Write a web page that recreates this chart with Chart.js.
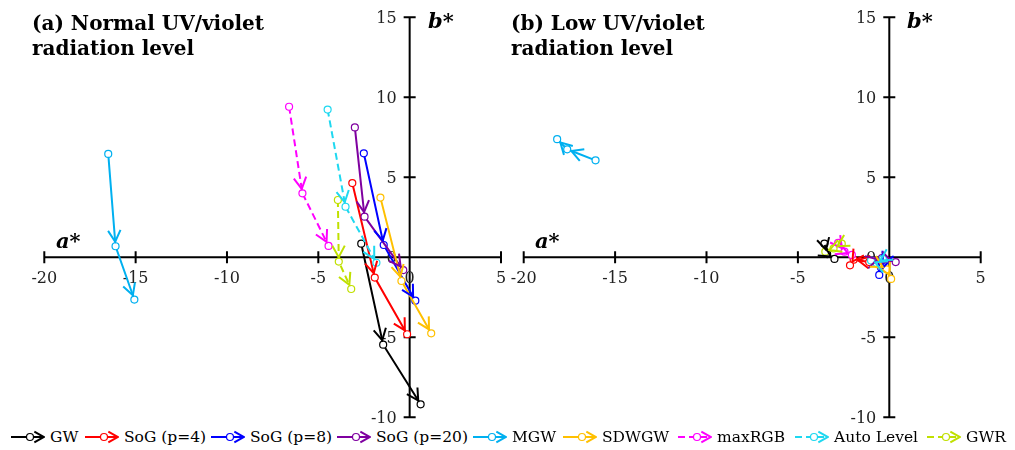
<!DOCTYPE html>
<html>
<head>
<meta charset="utf-8">
<script src="https://cdn.jsdelivr.net/npm/chart.js@4.4.1/dist/chart.umd.min.js"></script>
<style>
  body { margin: 0; background: #fff; }
  #wrap { position: relative; width: 1015px; height: 450px; font-family: 'DejaVu Serif', serif; color: #000; overflow: hidden; }
  .panel { position: absolute; top: 0; height: 425px; }
  #panelA { left: 0; width: 510px; }
  #panelB { left: 490px; width: 525px; }
  .title { position: absolute; top: 11px; font-weight: bold; font-size: 20px; line-height: 25px; }
  .axname { position: absolute; font-weight: bold; font-style: italic; font-size: 21px; line-height: 21px; }
  #legend { position: absolute; left: 0; top: 428px; width: 1015px; height: 18px; font-size: 15.5px; line-height: 18px; white-space: nowrap; }
  #legend .item { position: absolute; top: 0; display: flex; align-items: center; }
  #legend canvas { margin-right: 5px; }
</style>
</head>
<body>
<div id="wrap">
  <canvas id="panelA" class="panel" width="510" height="425"></canvas>
  <canvas id="panelB" class="panel" width="525" height="425"></canvas>
  <div class="title" style="left:32px">(a) Normal UV/violet<br>radiation level</div>
  <div class="title" style="left:511px">(b) Low UV/violet<br>radiation level</div>
  <div class="axname" style="left:56px;top:230px">a*</div>
  <div class="axname" style="left:428px;top:10px">b*</div>
  <div class="axname" style="left:535px;top:230px">a*</div>
  <div class="axname" style="left:907px;top:10px">b*</div>
  <div id="legend"></div>
</div>
<script>
// axis ticks
const aTicks = [-20, -15, -10, -5, 0, 5];
const bTicks = [-10, -5, 0, 5, 10, 15];

// series
const seriesNames = ['GW', 'SoG (p=4)', 'SoG (p=8)', 'SoG (p=20)', 'MGW', 'SDWGW', 'maxRGB', 'Auto Level', 'GWR'];
const seriesColors = ['#000000', '#ff0000', '#0000ff', '#7f00a0', '#00b0f0', '#ffc000', '#ff00ff', '#1ed8f0', '#c0e000'];
const seriesDashed = [false, false, false, false, false, false, true, true, true];

// (a) normal UV/violet level: [a*, b*] at each step
const normalGW    = [[-2.65, 0.85], [-1.45, -5.46], [0.60, -9.19]];
const normalSoG4  = [[-3.14, 4.64], [-1.91, -1.27], [-0.14, -4.81]];
const normalSoG8  = [[-2.51, 6.50], [-1.42, 0.77], [0.31, -2.71]];
const normalSoG20 = [[-3.00, 8.12], [-2.47, 2.54], [-0.35, -0.80]];
const normalMGW   = [[-16.50, 6.46], [-16.10, 0.69], [-15.07, -2.64]];
const normalSDWGW = [[-1.60, 3.73], [-0.45, -1.48], [1.18, -4.75]];
const normalMax   = [[-6.60, 9.41], [-5.87, 4.00], [-4.44, 0.71]];
const normalAuto  = [[-4.49, 9.23], [-3.51, 3.16], [-1.82, -0.34]];
const normalGWR   = [[-3.93, 3.58], [-3.88, -0.27], [-3.20, -1.98]];

// (b) low UV/violet level
const lowGW    = [[-3.55, 0.85], [-3.40, 0.20], [-3.00, -0.10]];
const lowSoG4  = [[-1.10, -0.30], [-1.95, -0.15], [-2.15, -0.50]];
const lowSoG8  = [[-0.30, -0.30], [-0.45, -0.65], [-0.55, -1.10]];
const lowSoG20 = [[-0.90, -0.20], [-0.40, -0.05], [0.35, -0.30]];
const lowMGW   = [[-16.07, 6.06], [-17.62, 6.75], [-18.17, 7.38]];
const lowSDWGW = [[-0.60, -0.45], [-0.15, -0.75], [0.10, -1.35]];
const lowMax   = [[-2.80, 0.90], [-2.45, 0.35], [-2.05, 0.15]];
const lowAuto  = [[-0.35, -0.10], [-0.70, -0.35], [-1.00, -0.20]];
const lowGWR   = [[-2.60, 0.85], [-3.05, 0.55], [-3.50, 0.35]];

const normalSeries = [normalGW, normalSoG4, normalSoG8, normalSoG20, normalMGW, normalSDWGW, normalMax, normalAuto, normalGWR];
const lowSeries = [lowGW, lowSoG4, lowSoG8, lowSoG20, lowMGW, lowSDWGW, lowMax, lowAuto, lowGWR];

const FONT = 'DejaVu Serif';
const DASH = [7, 4];
const PT_R = 3.5;
const HEAD = 13, HEAD_ANGLE = 0.5;
const legendLeft = [11, 85, 211, 337, 473, 563, 678, 795, 927];

// open chevron whose tip sits at (tx, ty), pointing along angle
const chevron = (ctx, tx, ty, angle, len) => {
    ctx.beginPath();
    ctx.moveTo(tx - len * Math.cos(angle - HEAD_ANGLE), ty - len * Math.sin(angle - HEAD_ANGLE));
    ctx.lineTo(tx, ty);
    ctx.lineTo(tx - len * Math.cos(angle + HEAD_ANGLE), ty - len * Math.sin(angle + HEAD_ANGLE));
    ctx.stroke();
};

// arrowheads at the end of every segment, stopping at the marker circle
const arrowHeads = {
    id: 'arrowHeads',
    afterDatasetsDraw(chart) {
        const ctx = chart.ctx;
        ctx.save();
        ctx.lineWidth = 2;
        ctx.setLineDash([]);
        chart.data.datasets.forEach((ds, i) => {
            const pts = chart.getDatasetMeta(i).data;
            ctx.strokeStyle = ds.borderColor;
            for (let j = 1; j < pts.length; j++) {
                const p0 = pts[j - 1], p1 = pts[j];
                const ang = Math.atan2(p1.y - p0.y, p1.x - p0.x);
                chevron(ctx, p1.x - (PT_R + 1) * Math.cos(ang), p1.y - (PT_R + 1) * Math.sin(ang), ang, HEAD);
            }
        });
        ctx.restore();
    }
};

// a*/b* axes crossing at the origin, with ticks through the line and labels
const crossAxes = {
    id: 'crossAxes',
    beforeDatasetsDraw(chart) {
        const { ctx, scales: { x, y } } = chart;
        const x0 = x.getPixelForValue(0), y0 = y.getPixelForValue(0);
        ctx.save();
        ctx.strokeStyle = '#000';
        ctx.lineWidth = 2;
        ctx.beginPath();
        ctx.moveTo(x.getPixelForValue(x.min) - 1, y0); ctx.lineTo(x.getPixelForValue(x.max) + 1, y0);
        ctx.moveTo(x0, y.getPixelForValue(y.max) - 1); ctx.lineTo(x0, y.getPixelForValue(y.min) + 1);
        x.ticks.forEach(t => {
            if (t.value === 0) return;
            const px = x.getPixelForValue(t.value);
            ctx.moveTo(px, y0 - 6); ctx.lineTo(px, y0 + 6);
        });
        y.ticks.forEach(t => {
            if (t.value === 0) return;
            const py = y.getPixelForValue(t.value);
            ctx.moveTo(x0 - 6, py); ctx.lineTo(x0 + 6, py);
        });
        ctx.stroke();

        ctx.fillStyle = '#222';
        ctx.font = `16px "${FONT}"`;
        ctx.textBaseline = 'alphabetic';
        ctx.textAlign = 'center';
        x.ticks.forEach(t => ctx.fillText(String(t.value), x.getPixelForValue(t.value), y0 + 26));
        ctx.textAlign = 'right';
        y.ticks.forEach(t => ctx.fillText(String(t.value), x0 - 13, y.getPixelForValue(t.value) + 6));
        ctx.restore();
    }
};

const makeDatasets = (series) => series.map((pts, i) => ({
    label: seriesNames[i],
    data: pts.map(p => ({ x: p[0], y: p[1] })),
    showLine: true,
    borderColor: seriesColors[i],
    borderWidth: 2,
    borderDash: seriesDashed[i] ? DASH : [],
    pointRadius: PT_R,
    pointBorderWidth: 1.2,
    pointBorderColor: seriesColors[i],
    pointBackgroundColor: '#fff',
    order: series.length - i
}));

const renderPanel = (canvasId, series, padLeft, padRight) => {
    new Chart(document.getElementById(canvasId), {
        type: 'scatter',
        data: { datasets: makeDatasets(series) },
        options: {
            responsive: false,
            animation: false,
            events: [],
            clip: false,
            layout: { autoPadding: false, padding: { left: padLeft, right: padRight, top: 17.3, bottom: 7.7 } },
            plugins: { legend: { display: false }, tooltip: { enabled: false } },
            scales: {
                x: {
                    type: 'linear', display: false,
                    min: aTicks[0], max: aTicks[aTicks.length - 1],
                    afterBuildTicks: s => { s.ticks = aTicks.map(v => ({ value: v })); }
                },
                y: {
                    type: 'linear', display: false,
                    min: bTicks[0], max: bTicks[bTicks.length - 1],
                    afterBuildTicks: s => { s.ticks = bTicks.map(v => ({ value: v })); }
                }
            }
        },
        plugins: [crossAxes, arrowHeads]
    });
};

renderPanel('panelA', normalSeries, 44.3, 9);
renderPanel('panelB', lowSeries, 33.7, 34.3);

// legend: line, open circle and chevron per series
const legend = document.getElementById('legend');
seriesNames.forEach((name, i) => {
    const item = document.createElement('div');
    item.className = 'item';
    item.style.left = legendLeft[i] + 'px';
    const c = document.createElement('canvas');
    c.width = 34; c.height = 16;
    const ctx = c.getContext('2d');
    ctx.strokeStyle = seriesColors[i];
    ctx.lineWidth = 2;
    ctx.setLineDash(seriesDashed[i] ? DASH : []);
    ctx.beginPath(); ctx.moveTo(0, 8); ctx.lineTo(32, 8); ctx.stroke();
    ctx.setLineDash([]);
    ctx.beginPath(); ctx.arc(19, 8, PT_R, 0, Math.PI * 2);
    ctx.fillStyle = '#fff'; ctx.fill();
    ctx.lineWidth = 1.2; ctx.stroke();
    ctx.lineWidth = 2;
    chevron(ctx, 33, 8, 0, 11);
    const label = document.createElement('span');
    label.textContent = name;
    item.appendChild(c);
    item.appendChild(label);
    legend.appendChild(item);
});
</script>
</body>
</html>
